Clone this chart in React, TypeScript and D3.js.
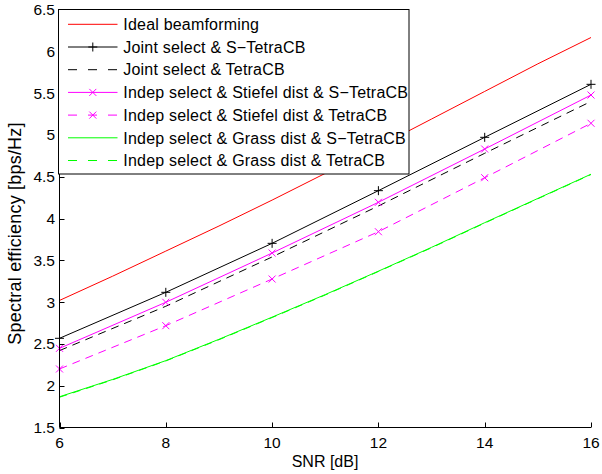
import React from "react";
import * as d3 from "d3";

// ---- data ----
const snrMarked = [6, 8, 10, 12, 14, 16];
const snrFine = [6, 7, 8, 9, 10, 11, 12, 13, 14, 15, 16];
const idealBF = [3.02, 3.31, 3.61, 3.91, 4.22, 4.54, 4.86, 5.19, 5.52, 5.85, 6.165];
const jointSTetra = [2.567, 3.117, 3.703, 4.333, 4.971, 5.605];
const jointTetra = [2.42, 2.95, 3.54, 4.15, 4.78, 5.4];
const stiefelSTetra = [2.447, 2.998, 3.587, 4.194, 4.831, 5.477];
const stiefelTetra = [2.2, 2.718, 3.276, 3.842, 4.488, 5.139];
const grassSTetra = [1.868, 2.075, 2.3, 2.555, 2.82, 3.09, 3.37, 3.655, 3.95, 4.24, 4.53];
const grassTetra = [1.862, 2.07, 2.296, 2.55, 2.815, 3.085, 3.366, 3.65, 3.945, 4.236, 4.526];
const xTicks = [6, 8, 10, 12, 14, 16];
const yTicks = [1.5, 2, 2.5, 3, 3.5, 4, 4.5, 5, 5.5, 6, 6.5];
const xLabel = "SNR [dB]";
const yLabel = "Spectral efficiency [bps/Hz]";

type Series = {
  name: string;
  x: number[];
  y: number[];
  color: string;
  dashed: boolean;
  marker: "none" | "plus" | "x";
};

const series: Series[] = [
  { name: "Ideal beamforming", x: snrFine, y: idealBF, color: "#ff0000", dashed: false, marker: "none" },
  { name: "Joint select & S\u2212TetraCB", x: snrMarked, y: jointSTetra, color: "#000000", dashed: false, marker: "plus" },
  { name: "Joint select & TetraCB", x: snrMarked, y: jointTetra, color: "#000000", dashed: true, marker: "none" },
  { name: "Indep select & Stiefel dist & S\u2212TetraCB", x: snrMarked, y: stiefelSTetra, color: "#ff00ff", dashed: false, marker: "x" },
  { name: "Indep select & Stiefel dist & TetraCB", x: snrMarked, y: stiefelTetra, color: "#ff00ff", dashed: true, marker: "x" },
  { name: "Indep select & Grass dist & S\u2212TetraCB", x: snrFine, y: grassSTetra, color: "#00ff00", dashed: false, marker: "none" },
  { name: "Indep select & Grass dist & TetraCB", x: snrFine, y: grassTetra, color: "#00ff00", dashed: true, marker: "none" },
];

const W = 602;
const H = 474;
const FONT = "'Liberation Sans', Arial, Helvetica, sans-serif";

const x = d3.scaleLinear().domain([6, 16]).range([59.5, 591]);
const y = d3.scaleLinear().domain([1.5, 6.5]).range([427.5, 9.5]);

function Marker({ type, cx, cy, color }: { type: string; cx: number; cy: number; color: string }) {
  if (type === "plus") {
    const r = 4.5;
    return (
      <path d={`M${cx - r},${cy}L${cx + r},${cy}M${cx},${cy - r}L${cx},${cy + r}`} stroke={color} strokeWidth={1} fill="none" />
    );
  }
  if (type === "x") {
    const r = 3.5;
    return (
      <path d={`M${cx - r},${cy - r}L${cx + r},${cy + r}M${cx - r},${cy + r}L${cx + r},${cy - r}`} stroke={color} strokeWidth={1} fill="none" />
    );
  }
  return null;
}

export default function App() {
  const line = d3
    .line<[number, number]>()
    .x((d) => x(d[0]))
    .y((d) => y(d[1]));

  const legend = { x: 58.5, y: 9.5, w: 350.5, h: 164.5, row0: 24.3, rowStep: 22.7 };

  return (
    <div style={{ position: "absolute", left: 0, top: 0 }}>
      <svg width={W} height={H} style={{ display: "block", background: "#fff" }} fontFamily={FONT}>
        <rect x={0} y={0} width={W} height={H} fill="#fff" />
        {/* series */}
        {series.map((s, i) => {
          const pts = s.x.map((v, j) => [v, s.y[j]] as [number, number]);
          return (
            <g key={i}>
              <path d={line(pts) || ""} fill="none" stroke={s.color} strokeWidth={1} strokeDasharray={s.dashed ? "8,6" : undefined} />
              {s.marker !== "none" &&
                pts.map((p, j) => <Marker key={j} type={s.marker} cx={x(p[0])} cy={y(p[1])} color={s.color} />)}
            </g>
          );
        })}
        {/* axes */}
        <line x1={59.5} x2={59.5} y1={y(6.5)} y2={y(1.5)} stroke="#000" strokeWidth={1} />
        <line x1={59.5} x2={x(16)} y1={427.5} y2={427.5} stroke="#000" strokeWidth={1} />
        {yTicks.map((t) => (
          <g key={"y" + t}>
            <line x1={59.5} x2={64.5} y1={Math.round(y(t)) + 0.5} y2={Math.round(y(t)) + 0.5} stroke="#000" strokeWidth={1} />
            <text x={55} y={y(t)} dy="0.36em" textAnchor="end" fontSize={15.5} fill="#000">
              {String(t)}
            </text>
          </g>
        ))}
        {xTicks.map((t) => (
          <g key={"x" + t}>
            <line x1={Math.round(x(t)) + 0.5} x2={Math.round(x(t)) + 0.5} y1={427.5} y2={422.5} stroke="#000" strokeWidth={1} />
            <text x={x(t)} y={447.5} textAnchor="middle" fontSize={15.5} fill="#000">
              {String(t)}
            </text>
          </g>
        ))}
        <text x={325} y={467} textAnchor="middle" fontSize={16} fill="#000">
          {xLabel}
        </text>
        <text transform={`translate(21,233.5) rotate(-90)`} textAnchor="middle" fontSize={18} letterSpacing={0.2} fill="#000">
          {yLabel}
        </text>
        {/* legend */}
        <rect x={legend.x} y={legend.y} width={legend.w} height={legend.h} fill="#fff" stroke="#000" strokeWidth={1} />
        {series.map((s, i) => {
          const cy = legend.row0 + i * legend.rowStep;
          return (
            <g key={"lg" + i}>
              <line x1={68} x2={117.5} y1={cy} y2={cy} stroke={s.color} strokeWidth={1} strokeDasharray={s.dashed ? "9,11" : undefined} />
              {s.marker !== "none" && <Marker type={s.marker} cx={92.8} cy={cy} color={s.color} />}
              <text x={123.3} y={cy + 5.7} fontSize={16} letterSpacing={0.2} fill="#000">
                {s.name}
              </text>
            </g>
          );
        })}
      </svg>
    </div>
  );
}
